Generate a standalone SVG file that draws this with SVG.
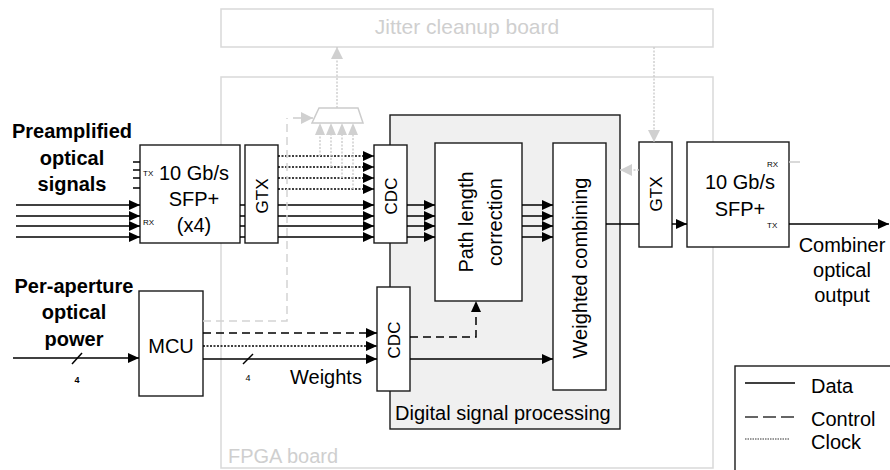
<svg xmlns="http://www.w3.org/2000/svg" width="890" height="470" viewBox="0 0 890 470">
<defs>
<style>
text{font-family:"Liberation Sans",Arial,sans-serif;fill:#000}
.box{fill:#fff;stroke:#1a1a1a;stroke-width:1.4}
.board{fill:none;stroke:#d9d9d9;stroke-width:1.5}
.lt{fill:#cfcfcf}
.lbl{font-size:20px}
.sm{font-size:17px}
.tiny{font-size:8px}
.bold{font-weight:bold;font-size:20px}
.d{stroke:#000;stroke-width:1.5;fill:none}
.da{stroke:#000;stroke-width:1.5;fill:none;stroke-dasharray:8 5}
.dt{stroke:#000;stroke-width:1.6;fill:none;stroke-dasharray:2 1.5}
.gd{stroke:#d4d4d4;stroke-width:1.5;fill:none;stroke-dasharray:8 5}
.gt{stroke:#cccccc;stroke-width:1.4;fill:none;stroke-dasharray:2 1.5}
.gs{stroke:#cccccc;stroke-width:1.5;fill:none}
</style>
<marker id="a" viewBox="0 0 11 10" refX="11" refY="5" markerWidth="11" markerHeight="10" markerUnits="userSpaceOnUse" orient="auto"><path d="M0,0 L11,5 L0,10 z" fill="#000"/></marker>
<marker id="g" viewBox="0 0 12 12" refX="12" refY="6" markerWidth="12" markerHeight="12" markerUnits="userSpaceOnUse" orient="auto"><path d="M0,0 L12,6 L0,12 z" fill="#d0d0d0"/></marker>
</defs>
<rect width="890" height="470" fill="#fff"/>

<g id="jitter-board">
<rect class="board" x="221" y="9" width="492" height="38"/>
<text class="lt" x="467" y="34" font-size="21" text-anchor="middle">Jitter cleanup board</text>
</g>

<g id="fpga-board">
<rect class="board" x="221" y="77" width="492" height="391"/>
<text class="lt" x="228" y="463" font-size="20">FPGA board</text>
</g>

<g id="dsp">
<rect x="390" y="115" width="230" height="314" fill="#f0f0f0" stroke="#1a1a1a" stroke-width="1.4"/>
<text class="lbl" x="395" y="420">Digital signal processing</text>
</g>

<g id="input-label">
<text class="bold" x="72" y="138" text-anchor="middle">Preamplified</text>
<text class="bold" x="72" y="165" text-anchor="middle">optical</text>
<text class="bold" x="72" y="191" text-anchor="middle">signals</text>
</g>

<g id="power-label">
<text class="bold" x="74" y="293" text-anchor="middle">Per-aperture</text>
<text class="bold" x="74" y="319" text-anchor="middle">optical</text>
<text class="bold" x="74" y="346" text-anchor="middle">power</text>
</g>

<g id="sfp-in">
<rect class="box" x="140" y="145" width="100" height="98"/>
<text class="lbl" x="194" y="180" text-anchor="middle">10 Gb/s</text>
<text class="lbl" x="194" y="206" text-anchor="middle">SFP+</text>
<text class="lbl" x="194" y="232" text-anchor="middle">(x4)</text>
<text class="tiny" x="143" y="176">TX</text>
<text class="tiny" x="143" y="225">RX</text>
</g>

<g id="gtx-in">
<rect class="box" x="245" y="145" width="33" height="98"/>
<text class="sm" transform="translate(262,196) rotate(-90)" x="0" y="6" text-anchor="middle">GTX</text>
</g>

<g id="cdc-top">
<rect class="box" x="374" y="145" width="33" height="98"/>
<text class="sm" transform="translate(390.5,196) rotate(-90)" x="0" y="6" text-anchor="middle">CDC</text>
</g>

<g id="path-length">
<rect class="box" x="435" y="143" width="87" height="158"/>
<g transform="translate(478,222) rotate(-90)">
<text class="lbl" x="0" y="-5" text-anchor="middle">Path length</text>
<text class="lbl" x="0" y="24" text-anchor="middle">correction</text>
</g>
</g>

<g id="weighted">
<rect class="box" x="553" y="143" width="53" height="247"/>
<text class="lbl" transform="translate(580,268) rotate(-90)" x="0" y="7" text-anchor="middle">Weighted combining</text>
</g>

<g id="gtx-out">
<rect class="box" x="639" y="142" width="33" height="105"/>
<text class="sm" transform="translate(655.5,194) rotate(-90)" x="0" y="6" text-anchor="middle">GTX</text>
</g>

<g id="sfp-out">
<rect class="box" x="687" y="142" width="102" height="105"/>
<text class="lbl" x="740" y="189" text-anchor="middle">10 Gb/s</text>
<text class="lbl" x="740" y="216" text-anchor="middle">SFP+</text>
<text class="tiny" x="767" y="167">RX</text>
<text class="tiny" x="767" y="228">TX</text>
</g>

<g id="output-label">
<text class="lbl" x="842" y="252" text-anchor="middle">Combiner</text>
<text class="lbl" x="842" y="277" text-anchor="middle">optical</text>
<text class="lbl" x="842" y="302" text-anchor="middle">output</text>
</g>

<g id="mcu">
<rect class="box" x="139" y="291" width="64" height="105"/>
<text class="lbl" x="171" y="353" text-anchor="middle">MCU</text>
</g>

<g id="cdc-bottom">
<rect class="box" x="377" y="287" width="33" height="104"/>
<text class="sm" transform="translate(393.5,340) rotate(-90)" x="0" y="6" text-anchor="middle">CDC</text>
</g>

<g id="mux">
<path d="M319,108 L358,108 L363,123 L312,123 Z" fill="#fff" stroke="#cccccc" stroke-width="1.5"/>
<path d="M320,123 L325,135 L315,135 Z M331,123 L336,135 L326,135 Z M342,123 L347,135 L337,135 Z M353,123 L358,135 L348,135 Z" fill="#d0d0d0"/>
</g>

<g id="legend">
<rect x="735" y="366" width="160" height="110" fill="#fff" stroke="#1a1a1a" stroke-width="1.4"/>
<line class="d" x1="745" y1="383" x2="795" y2="383"/>
<line x1="745" y1="417" x2="795" y2="417" stroke="#333" stroke-width="1.5" stroke-dasharray="13 5"/>
<line x1="745" y1="439" x2="790" y2="439" stroke="#333" stroke-width="1" stroke-dasharray="1.5 1"/>
<text class="lbl" x="811" y="393">Data</text>
<text class="lbl" x="811" y="426">Control</text>
<text class="lbl" x="811" y="449">Clock</text>
</g>

<g id="connectors">
<!-- TX ticks -->
<path class="d" d="M133,162 H140 M133,170 H140 M133,178 H140 M133,188 H140"/>
<!-- optical inputs -->
<line class="d" x1="16" y1="205" x2="140" y2="205" marker-end="url(#a)"/>
<line class="d" x1="16" y1="216" x2="140" y2="216" marker-end="url(#a)"/>
<line class="d" x1="16" y1="226" x2="140" y2="226" marker-end="url(#a)"/>
<line class="d" x1="16" y1="237" x2="140" y2="237" marker-end="url(#a)"/>
<!-- SFP to GTX -->
<path class="d" d="M240,205 H245 M240,216 H245 M240,226 H245 M240,237 H245"/>
<!-- GTX to CDC data -->
<line class="d" x1="278" y1="205" x2="374" y2="205" marker-end="url(#a)"/>
<line class="d" x1="278" y1="216" x2="374" y2="216" marker-end="url(#a)"/>
<line class="d" x1="278" y1="226" x2="374" y2="226" marker-end="url(#a)"/>
<line class="d" x1="278" y1="237" x2="374" y2="237" marker-end="url(#a)"/>
<!-- GTX to CDC clocks -->
<line class="dt" x1="278" y1="156" x2="374" y2="156" marker-end="url(#a)"/>
<line class="dt" x1="278" y1="167" x2="374" y2="167" marker-end="url(#a)"/>
<line class="dt" x1="278" y1="178" x2="374" y2="178" marker-end="url(#a)"/>
<line class="dt" x1="278" y1="189" x2="374" y2="189" marker-end="url(#a)"/>
<!-- clock taps to mux -->
<path class="gt" d="M320,156 V135 M331,167 V135 M342,178 V135 M353,189 V135"/>
<!-- mux to jitter board -->
<line class="gt" x1="337" y1="108" x2="337" y2="47" marker-end="url(#g)"/>
<!-- MCU control to mux select -->
<path class="gd" d="M203,321 H287 V118"/>
<line class="gs" x1="293" y1="118" x2="313" y2="118" marker-end="url(#g)"/>
<!-- CDC to path length -->
<line class="d" x1="407" y1="205" x2="435" y2="205" marker-end="url(#a)"/>
<line class="d" x1="407" y1="216" x2="435" y2="216" marker-end="url(#a)"/>
<line class="d" x1="407" y1="226" x2="435" y2="226" marker-end="url(#a)"/>
<line class="d" x1="407" y1="237" x2="435" y2="237" marker-end="url(#a)"/>
<!-- path length to weighted -->
<line class="d" x1="522" y1="205" x2="553" y2="205" marker-end="url(#a)"/>
<line class="d" x1="522" y1="216" x2="553" y2="216" marker-end="url(#a)"/>
<line class="d" x1="522" y1="226" x2="553" y2="226" marker-end="url(#a)"/>
<line class="d" x1="522" y1="237" x2="553" y2="237" marker-end="url(#a)"/>
<!-- weighted to GTX to SFP to output -->
<line class="d" x1="606" y1="224" x2="639" y2="224"/>
<line class="d" x1="672" y1="224" x2="687" y2="224" marker-end="url(#a)"/>
<line class="d" x1="789" y1="224" x2="889" y2="224" marker-end="url(#a)"/>
<!-- jitter clock to GTX and to DSP -->
<line class="gt" x1="654" y1="47" x2="654" y2="142" marker-end="url(#g)"/>
<line class="gt" x1="639" y1="170" x2="620" y2="170" marker-end="url(#g)"/>
<line class="gs" x1="789" y1="162" x2="800" y2="162"/>
<!-- power input to MCU -->
<line class="d" x1="13" y1="358" x2="139" y2="358" marker-end="url(#a)"/>
<line class="d" x1="72" y1="364" x2="82" y2="353"/>
<text x="77" y="383" font-size="9" font-weight="bold" text-anchor="middle">4</text>
<!-- MCU to lower CDC -->
<line class="da" x1="203" y1="333" x2="377" y2="333" marker-end="url(#a)"/>
<line class="dt" x1="203" y1="346" x2="377" y2="346" marker-end="url(#a)"/>
<line class="d" x1="203" y1="359" x2="377" y2="359" marker-end="url(#a)"/>
<line class="d" x1="243" y1="364" x2="253" y2="354" stroke-width="1"/>
<text x="248" y="381" font-size="9" fill="#444" text-anchor="middle">4</text>
<text class="lbl" x="290" y="384">Weights</text>
<!-- lower CDC outputs -->
<path class="da" d="M410,337 H476 V301" marker-end="url(#a)"/>
<line class="d" x1="410" y1="359" x2="553" y2="359" marker-end="url(#a)"/>
</g>
</svg>
